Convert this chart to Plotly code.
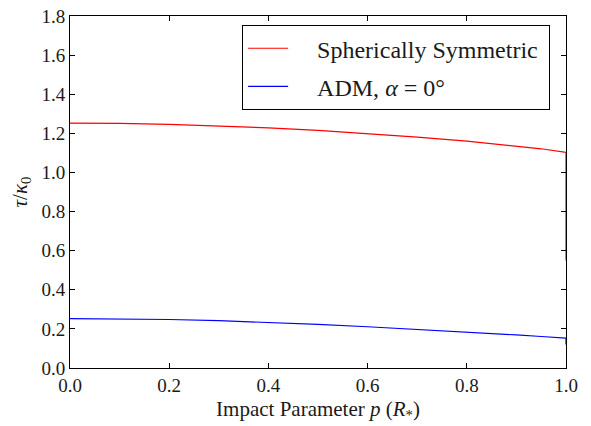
import plotly.graph_objects as go

p = [0.0, 0.1, 0.2, 0.3, 0.4, 0.5, 0.6, 0.7, 0.8, 0.9, 0.95, 1.0, 1.0]
tau_sph = [1.252, 1.251, 1.246, 1.238, 1.228, 1.215, 1.199, 1.181, 1.160, 1.136, 1.121, 1.103, 0.55]
tau_adm = [0.252, 0.251, 0.248, 0.242, 0.233, 0.223, 0.211, 0.198, 0.184, 0.169, 0.161, 0.153, 0.12]

x_ticks = [0.0, 0.2, 0.4, 0.6, 0.8, 1.0]
y_ticks = [0.0, 0.2, 0.4, 0.6, 0.8, 1.0, 1.2, 1.4, 1.6, 1.8]

font_family = "Liberation Serif, Times New Roman, serif"
txt = "#1a1a1a"
pad = "\u00a0\u00a0\u00a0\u00a0"

fig = go.Figure()
fig.add_trace(go.Scatter(x=p, y=tau_sph, mode="lines", name=pad + "Spherically Symmetric\u00a0",
                         line=dict(color="#ff0000", width=1.2), legendgroup="a"))
fig.add_trace(go.Scatter(x=p, y=tau_adm, mode="lines", name=pad + "ADM, <i>α</i> = 0°",
                         line=dict(color="#0000ff", width=1.2), legendgroup="b"))

axis_common = dict(showline=True, linecolor="black", linewidth=1, mirror="ticks",
                   ticks="inside", ticklen=5, tickcolor="black", showgrid=False,
                   zeroline=False, automargin=False,
                   tickfont=dict(family=font_family, size=19, color=txt))

fig.update_xaxes(range=[0, 1], tickvals=x_ticks, ticktext=[f"{v:.1f}" for v in x_ticks],
                 title=dict(text="Impact Parameter <i>p</i> (<i>R</i><sub>*</sub>)",
                            font=dict(family=font_family, size=21, color=txt), standoff=6),
                 **axis_common)
fig.update_yaxes(range=[0, 1.8], tickvals=y_ticks, ticktext=[f"{v:.1f}" for v in y_ticks],
                 title=dict(text="<i>τ</i>/<i>κ</i><sub>0</sub>",
                            font=dict(family=font_family, size=21, color=txt), standoff=8),
                 **axis_common)

fig.update_layout(
    width=591, height=426,
    margin=dict(l=70, r=25, t=16, b=58),
    paper_bgcolor="white", plot_bgcolor="white",
    showlegend=True,
    legend=dict(x=0.347, y=0.974, xanchor="left", yanchor="top",
                bordercolor="black", borderwidth=1, bgcolor="white",
                font=dict(family=font_family, size=24, color=txt),
                tracegroupgap=4, itemwidth=40),
)

fig.write_html("out.html", config={"displayModeBar": False},
               post_script="document.body.style.margin='0';")
